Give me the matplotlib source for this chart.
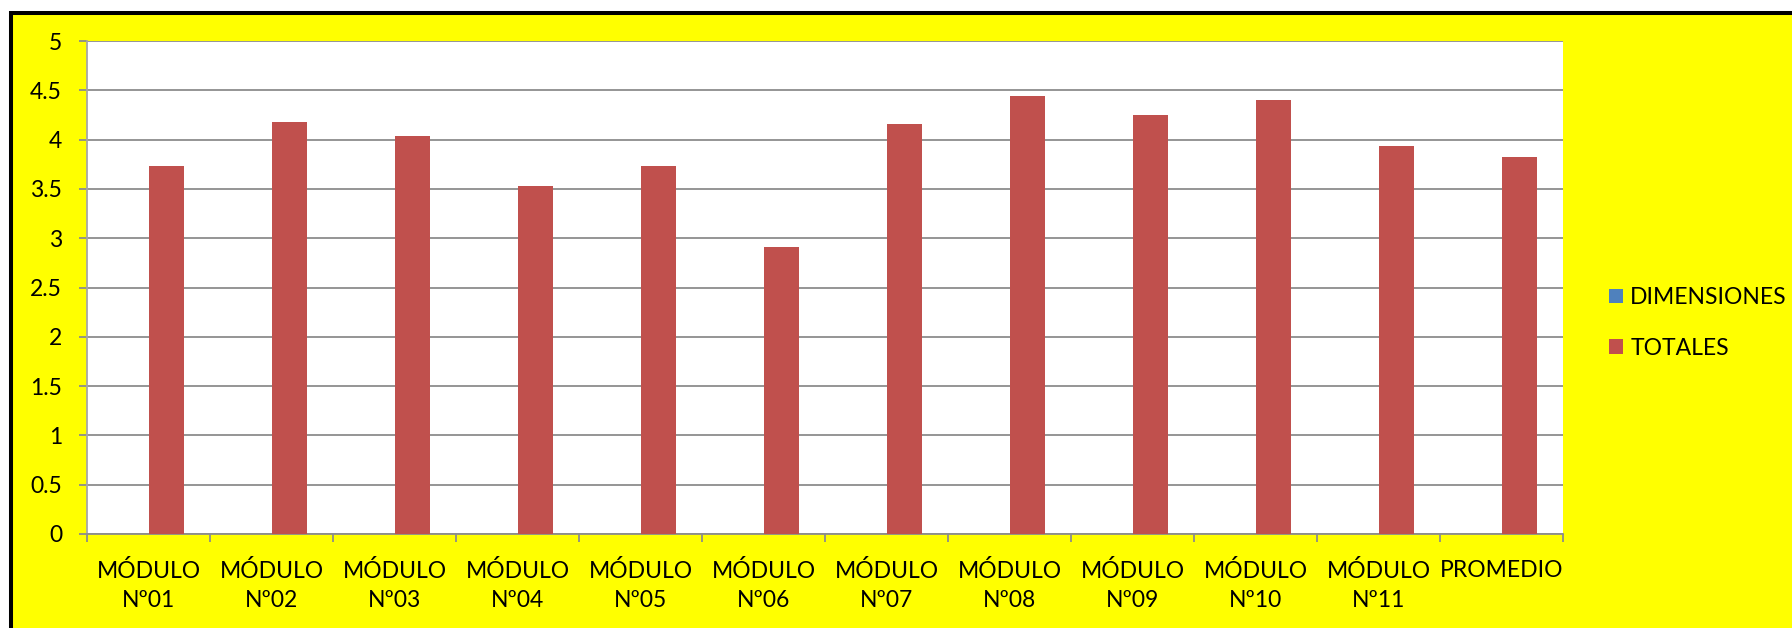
import matplotlib
matplotlib.use('Agg')
import matplotlib.pyplot as plt
from matplotlib.patches import Rectangle, Patch
import numpy as np

categories = ['MÓDULO\nNº01', 'MÓDULO\nNº02', 'MÓDULO\nNº03', 'MÓDULO\nNº04',
              'MÓDULO\nNº05', 'MÓDULO\nNº06', 'MÓDULO\nNº07', 'MÓDULO\nNº08',
              'MÓDULO\nNº09', 'MÓDULO\nNº10', 'MÓDULO\nNº11', 'PROMEDIO']
dimensiones = [0, 0, 0, 0, 0, 0, 0, 0, 0, 0, 0, 0]
totales = [3.73, 4.18, 4.04, 3.53, 3.73, 2.91, 4.16, 4.44, 4.25, 4.40, 3.94, 3.82]
yticks = [0, 0.5, 1, 1.5, 2, 2.5, 3, 3.5, 4, 4.5, 5]
ytick_labels = ['0', '0.5', '1', '1.5', '2', '2.5', '3', '3.5', '4', '4.5', '5']
series_names = ['DIMENSIONES', 'TOTALES']
colors = ['#4F81BD', '#C0504D']

plt.rcParams['font.family'] = ['Lato', 'DejaVu Sans']
FS = 16.5

W, H = 1792, 628
fig = plt.figure(figsize=(W / 100, H / 100), dpi=100, facecolor='white')

# yellow chart area with black border on left/top
bg = Rectangle((11 / W, -0.2), 1.2, (H - 12.5) / H + 0.2, transform=fig.transFigure,
               facecolor='#FFFF00', edgecolor='black', linewidth=2.9, zorder=-10)
fig.add_artist(bg)

left, right, top, bottom = 87, 1563, 41, 534
ax = fig.add_axes([left / W, (H - bottom) / H, (right - left) / W, (bottom - top) / H])
ax.set_facecolor('white')

x = np.arange(len(categories))
bw = 0.285
ax.bar(x - bw / 2, dimensiones, width=bw, color=colors[0], linewidth=0, zorder=3)
ax.bar(x + bw / 2, totales, width=bw, color=colors[1], linewidth=0, zorder=3)

ax.set_xlim(-0.5, len(categories) - 0.5)
ax.set_ylim(0, 5)
ax.set_yticks(yticks)
ax.set_yticklabels(ytick_labels, fontsize=FS)
ax.yaxis.grid(True, color='#8C8C8C', linewidth=1.3, zorder=1)
ax.set_axisbelow(True)

ax.set_xticks(x)
ax.set_xticklabels(categories, fontsize=FS, linespacing=1.45)
ax.set_xticks(np.arange(-0.5, len(categories)), minor=True)
ax.tick_params(axis='x', which='major', length=0, pad=19)
ax.tick_params(axis='x', which='minor', length=6, width=1.3, color='#8C8C8C')
ax.tick_params(axis='y', length=6, width=1.3, color='#8C8C8C', pad=12)

for s in ['top', 'right']:
    ax.spines[s].set_visible(False)
ax.spines['left'].set_color('#A6A6A6')
ax.spines['left'].set_linewidth(1.3)
ax.spines['bottom'].set_color('#8C8C8C')
ax.spines['bottom'].set_linewidth(1.3)

handles = [Patch(facecolor=c, edgecolor='none') for c in colors]
fig.legend(handles, series_names, loc='center left',
           bbox_to_anchor=(1600 / W, (H - 323) / H), frameon=False, fontsize=FS,
           handlelength=0.62, handleheight=0.62, handletextpad=0.3, labelspacing=1.3,
           borderaxespad=0)

fig.savefig('out.png', dpi=100, facecolor='white')
